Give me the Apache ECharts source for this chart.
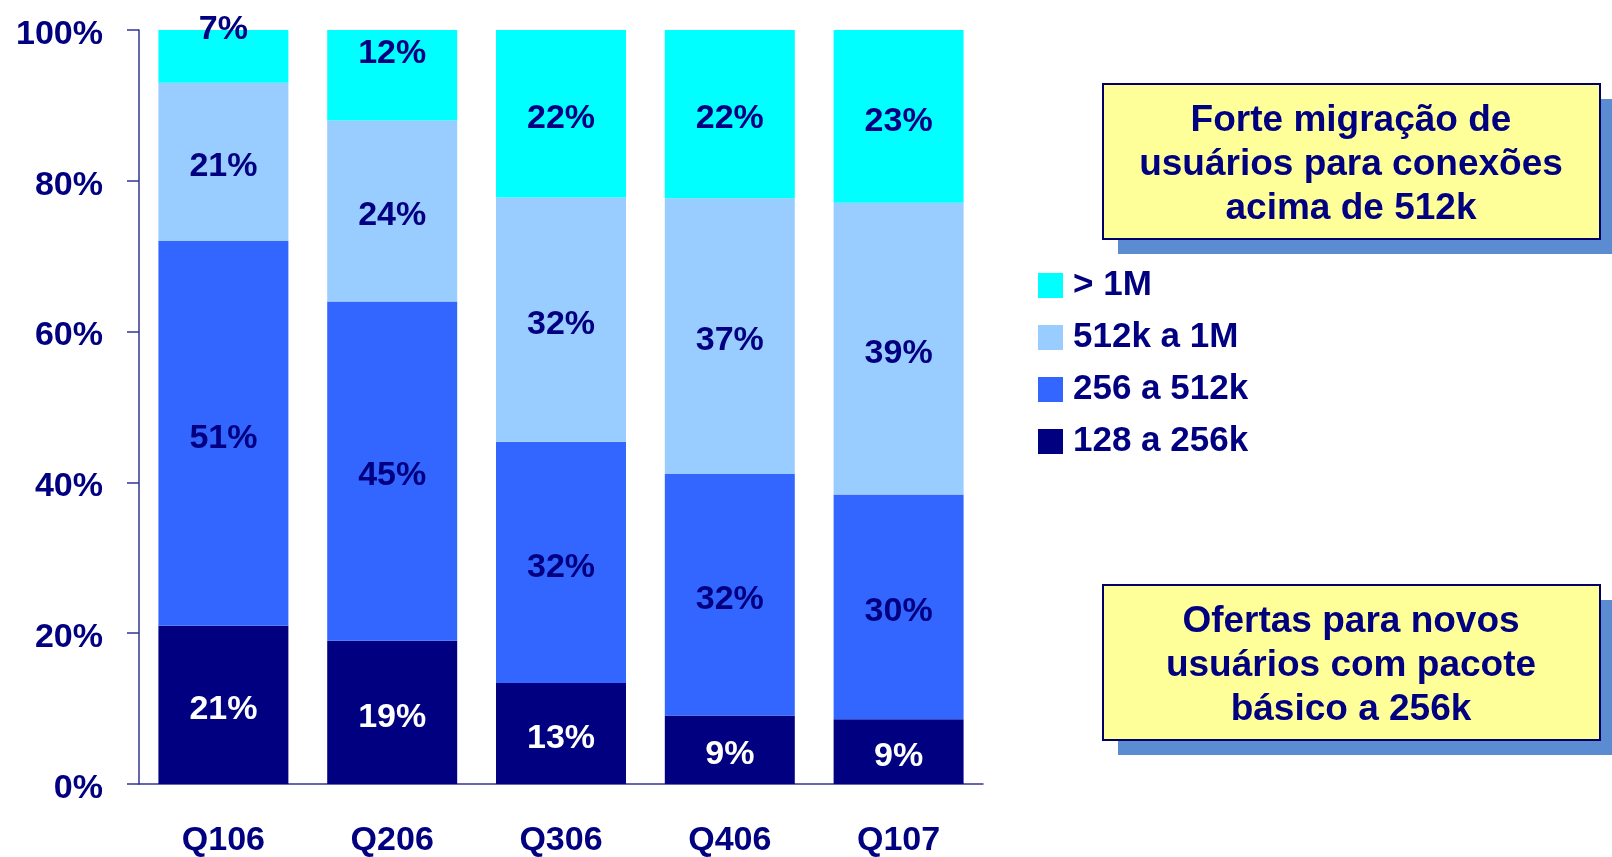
<!DOCTYPE html>
<html>
<head>
<meta charset="utf-8">
<script src="https://cdn.jsdelivr.net/npm/echarts@6/dist/echarts.min.js"></script>
<style>
  html, body { margin: 0; padding: 0; background: #fff; }
  #chart { width: 1612px; height: 857px; }
</style>
</head>
<body>
<div id="chart"></div>
<script>
  // dados (% por trimestre)
  var quarters = ['Q106', 'Q206', 'Q306', 'Q406', 'Q107'];
  var seriesNames = ['128 a 256k', '256 a 512k', '512k a 1M', '> 1M'];
  var v128to256 = [21, 19, 13.4, 9.1, 8.6];
  var v256to512 = [51, 45, 32.0, 32.0, 29.8];
  var v512to1M = [21, 24, 32.4, 36.6, 38.7];
  var vOver1M = [7, 12, 22.2, 22.3, 22.9];
  var yTicks = [0, 20, 40, 60, 80, 100];

  var navy = '#000080';
  var font = '"Liberation Sans", Arial, sans-serif';
  var colors = ['#000080', '#3366FF', '#99CCFF', '#00FFFF'];
  var allValues = [v128to256, v256to512, v512to1M, vOver1M];

  // rótulos do topo deslocados como no original
  var labelShift = { 3: { 0: -27, 1: -22 } };

  function makeSeries(idx) {
    var data = allValues[idx].map(function (v, i) {
      var item = { value: v };
      if (labelShift[idx] && labelShift[idx][i] !== undefined) {
        item.label = { offset: [0, labelShift[idx][i]] };
      }
      return item;
    });
    return {
      name: seriesNames[idx],
      type: 'bar',
      stack: 'total',
      barWidth: '77%',
      itemStyle: { color: colors[idx] },
      label: {
        show: true,
        position: 'inside',
        offset: [0, 5],
        fontFamily: font,
        fontWeight: 'bold',
        fontSize: 34,
        color: idx === 0 ? '#fff' : navy,
        formatter: function (p) { return Math.round(p.value) + '%'; }
      },
      emphasis: { disabled: true },
      data: data
    };
  }

  var option = {
    animation: false,
    grid: { left: 139, right: 629, top: 30, bottom: 73, outerBoundsMode: 'none' },
    legend: {
      orient: 'vertical',
      left: 1033,
      top: 263,
      icon: 'rect',
      itemWidth: 25,
      itemHeight: 25,
      itemGap: 17,
      data: ['> 1M', '512k a 1M', '256 a 512k', '128 a 256k'],
      textStyle: {
        color: navy,
        fontFamily: font,
        fontWeight: 'bold',
        fontSize: 35,
        padding: [0, 0, 0, 5]
      },
      selectedMode: false
    },
    xAxis: {
      type: 'category',
      data: quarters,
      axisLine: { lineStyle: { color: '#333399', width: 1.5 } },
      axisTick: { length: 12, lineStyle: { color: '#333399', width: 1.5 } },
      axisLabel: {
        margin: 40,
        color: navy,
        fontFamily: font,
        fontWeight: 'bold',
        fontSize: 34
      }
    },
    yAxis: {
      type: 'value',
      min: yTicks[0],
      max: yTicks[yTicks.length - 1],
      interval: 20,
      splitLine: { show: false },
      axisLine: { show: true, lineStyle: { color: '#333399', width: 1.5 } },
      axisTick: { show: true, length: 12, lineStyle: { color: '#333399', width: 1.5 } },
      axisLabel: {
        margin: 36,
        formatter: '{v|{value}%}',
        rich: {
          v: {
            color: navy,
            fontFamily: font,
            fontWeight: 'bold',
            fontSize: 34,
            padding: [9, 0, 0, 0]
          }
        }
      }
    },
    graphic: [
      { type: 'rect', shape: { x: 1118, y: 99, width: 497, height: 155 }, style: { fill: '#5B8BD0' } },
      { type: 'rect', shape: { x: 1103, y: 84, width: 497, height: 155 }, style: { fill: '#FFFF99', stroke: '#000066', lineWidth: 2 } },
      {
        type: 'text', x: 1351, y: 165,
        style: {
          text: 'Forte migração de\nusuários para conexões\nacima de 512k',
          fill: navy, fontFamily: font, fontWeight: 'bold', fontSize: 37,
          lineHeight: 44, textAlign: 'center', textVerticalAlign: 'middle'
        }
      },
      { type: 'rect', shape: { x: 1118, y: 600, width: 497, height: 155 }, style: { fill: '#5B8BD0' } },
      { type: 'rect', shape: { x: 1103, y: 585, width: 497, height: 155 }, style: { fill: '#FFFF99', stroke: '#000066', lineWidth: 2 } },
      {
        type: 'text', x: 1351, y: 666,
        style: {
          text: 'Ofertas para novos\nusuários com pacote\nbásico a 256k',
          fill: navy, fontFamily: font, fontWeight: 'bold', fontSize: 37,
          lineHeight: 44, textAlign: 'center', textVerticalAlign: 'middle'
        }
      }
    ],
    series: [makeSeries(0), makeSeries(1), makeSeries(2), makeSeries(3)]
  };

  var myChart = echarts.init(document.getElementById('chart'));
  myChart.setOption(option);
  window.addEventListener('resize', function () {
    myChart.resize();
  });
</script>
</body>
</html>
